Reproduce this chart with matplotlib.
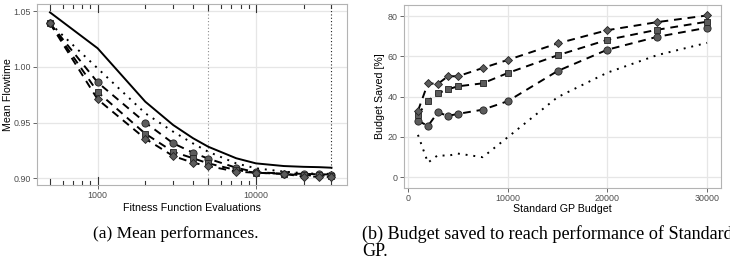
import matplotlib.pyplot as plt
import numpy as np
from matplotlib.ticker import FixedLocator, NullLocator

# --- data (a): mean flowtime vs evaluations
evals = [500, 1000, 2000, 3000, 4000, 5000, 7500, 10000, 15000, 20000, 25000, 30000]
flow_std = [1.0488, 1.0166, 0.9687, 0.9478, 0.936, 0.9283, 0.918, 0.9134, 0.911, 0.9103, 0.910, 0.9095]
flow_dot = [1.039, 0.9986, 0.9583, 0.9418, 0.9313, 0.9238, 0.9134, 0.909, 0.906, 0.9046, 0.904, 0.9040]
flow_circ = [1.039, 0.986, 0.950, 0.9314, 0.923, 0.9176, 0.9095, 0.9054, 0.9043, 0.904, 0.9036, 0.9034]
flow_sq = [1.039, 0.9774, 0.940, 0.9238, 0.918, 0.9134, 0.9074, 0.905, 0.904, 0.9026, 0.9026, 0.902]
flow_dia = [1.039, 0.9708, 0.9355, 0.920, 0.914, 0.911, 0.906, 0.905, 0.904, 0.9015, 0.9015, 0.901]
ref_lines = [5000, 30000]

# --- data (b): budget saved vs standard GP budget
budget = [1000, 2000, 3000, 4000, 5000, 7500, 10000, 15000, 20000, 25000, 30000]
saved_dot = [21, 7.2, 10.9, 10.6, 11.7, 9.9, 19.8, 39.7, 51.9, 60.6, 66.7]
saved_circ = [28.1, 25.4, 32.2, 30.4, 31.4, 33.5, 37.7, 52.7, 63.3, 69.7, 74.2]
saved_sq = [30.9, 38, 41.6, 43.6, 45.1, 46.6, 51.7, 60.5, 68.2, 73.2, 77.2]
saved_dia = [32.9, 46.6, 46.3, 50.1, 50.1, 54.2, 58.2, 66.4, 73, 77, 80.3]

W, H = 730, 260
LW = 1.4
DASH = (4, 3)
DOT = (1, 3)
MFC = '#5c5c5c'
SANS = 'Liberation Sans'
TICK_FS = 6.4
LAB_FS = 7.7


def style_axes(ax):
    ax.set_facecolor('white')
    for s in ax.spines.values():
        s.set_color('#b3b3b3')
        s.set_linewidth(0.8)
    ax.grid(True, which='major', color='#e6e6e6', linewidth=0.9, zorder=0)
    ax.set_axisbelow(True)
    ax.tick_params(axis='both', which='major', length=3, width=0.7, color='#666666',
                   labelsize=TICK_FS, labelcolor='#4d4d4d', pad=1.5)
    for lab in ax.get_xticklabels() + ax.get_yticklabels():
        lab.set_family(SANS)


def dashed(ax, x, y, marker, ms):
    ax.plot(x, y, color='black', lw=LW, dashes=DASH, zorder=3)
    ax.plot(x, y, ls='none', marker=marker, ms=ms, mfc=MFC, mec='#222222',
            mew=0.6, zorder=4)


fig = plt.figure(figsize=(W / 100, H / 100), dpi=100)

# ---------------- (a)
ax1 = fig.add_axes([37 / W, 1 - 185 / H, 310 / W, 181 / H])
ax1.set_xscale('log')
ax1.set_xlim(414, 37600)
ax1.set_ylim(0.894, 1.0563)
ax1.xaxis.set_major_locator(FixedLocator([1000, 10000]))
ax1.xaxis.set_minor_locator(NullLocator())
ax1.set_xticklabels(['1000', '10000'])
ax1.set_yticks([0.90, 0.95, 1.00, 1.05])
ax1.set_yticklabels(['0.90', '0.95', '1.00', '1.05'])
style_axes(ax1)

# log ticks inside panel, top and bottom
trans = ax1.get_xaxis_transform()
for dec in [100, 1000, 10000]:
    for k in range(1, 10):
        v = k * dec
        if v < 500 or v > 30000:
            continue
        if k == 1:
            L = 8
        elif k == 5:
            L = 6
        else:
            L = 4
        f = L / 181
        ax1.plot([v, v], [0, f], transform=trans, color='#333333', lw=0.8, zorder=2, clip_on=False)
        ax1.plot([v, v], [1 - f, 1], transform=trans, color='#333333', lw=0.8, zorder=2, clip_on=False)

ax1.axvline(ref_lines[0], color='#8c8c8c', lw=0.8, ls=(0, (1, 2)), zorder=1)
ax1.axvline(ref_lines[1], color='#222222', lw=0.8, ls=(0, (1, 2)), zorder=1)

ax1.plot(evals, flow_std, color='black', lw=LW, zorder=3)
ax1.plot(evals, flow_dot, color='black', lw=LW, dashes=DOT, zorder=3)
dashed(ax1, evals, flow_circ, 'o', 5.2)
dashed(ax1, evals, flow_sq, 's', 4.6)
dashed(ax1, evals, flow_dia, 'D', 4.4)

ax1.set_xlabel('Fitness Function Evaluations', family=SANS, fontsize=LAB_FS)
ax1.set_ylabel('Mean Flowtime', family=SANS, fontsize=LAB_FS)
ax1.xaxis.set_label_coords(0.5, -0.125)
ax1.yaxis.set_label_coords(-0.095, 0.5)
ax1.xaxis.label.set_va('center')
ax1.yaxis.label.set_va('center')

# ---------------- (b)
ax2 = fig.add_axes([404 / W, 1 - 188 / H, 317 / W, 183 / H])
ax2.set_xlim(-400, 31400)
ax2.set_ylim(-5.4, 85.5)
ax2.set_xticks([0, 10000, 20000, 30000])
ax2.set_xticklabels(['0', '10000', '20000', '30000'])
ax2.set_yticks([0, 20, 40, 60, 80])
ax2.set_yticklabels(['0', '20', '40', '60', '80'])
style_axes(ax2)

ax2.plot(budget, saved_dot, color='black', lw=LW, dashes=DOT, zorder=3)
dashed(ax2, budget, saved_circ, 'o', 5.2)
dashed(ax2, budget, saved_sq, 's', 4.6)
dashed(ax2, budget, saved_dia, 'D', 4.4)

ax2.set_xlabel('Standard GP Budget', family=SANS, fontsize=LAB_FS)
ax2.set_ylabel('Budget Saved [%]', family=SANS, fontsize=LAB_FS)
ax2.xaxis.set_label_coords(0.5, -0.115)
ax2.yaxis.set_label_coords(-0.076, 0.5)
ax2.xaxis.label.set_va('center')
ax2.yaxis.label.set_va('center')

# ---------------- captions
SERIF = 'Liberation Serif'
fig.text(176 / W, 1 - 234 / H, '(a) Mean performances.', family=SERIF, fontsize=12.4,
         ha='center', va='center')
fig.text(362 / W, 1 - 234 / H, '(b) Budget saved to reach performance of Standard',
         family=SERIF, fontsize=13.05, ha='left', va='center')
fig.text(362 / W, 1 - 251 / H, 'GP.', family=SERIF, fontsize=13.05, ha='left', va='center')

fig.savefig('out.png', dpi=100)
